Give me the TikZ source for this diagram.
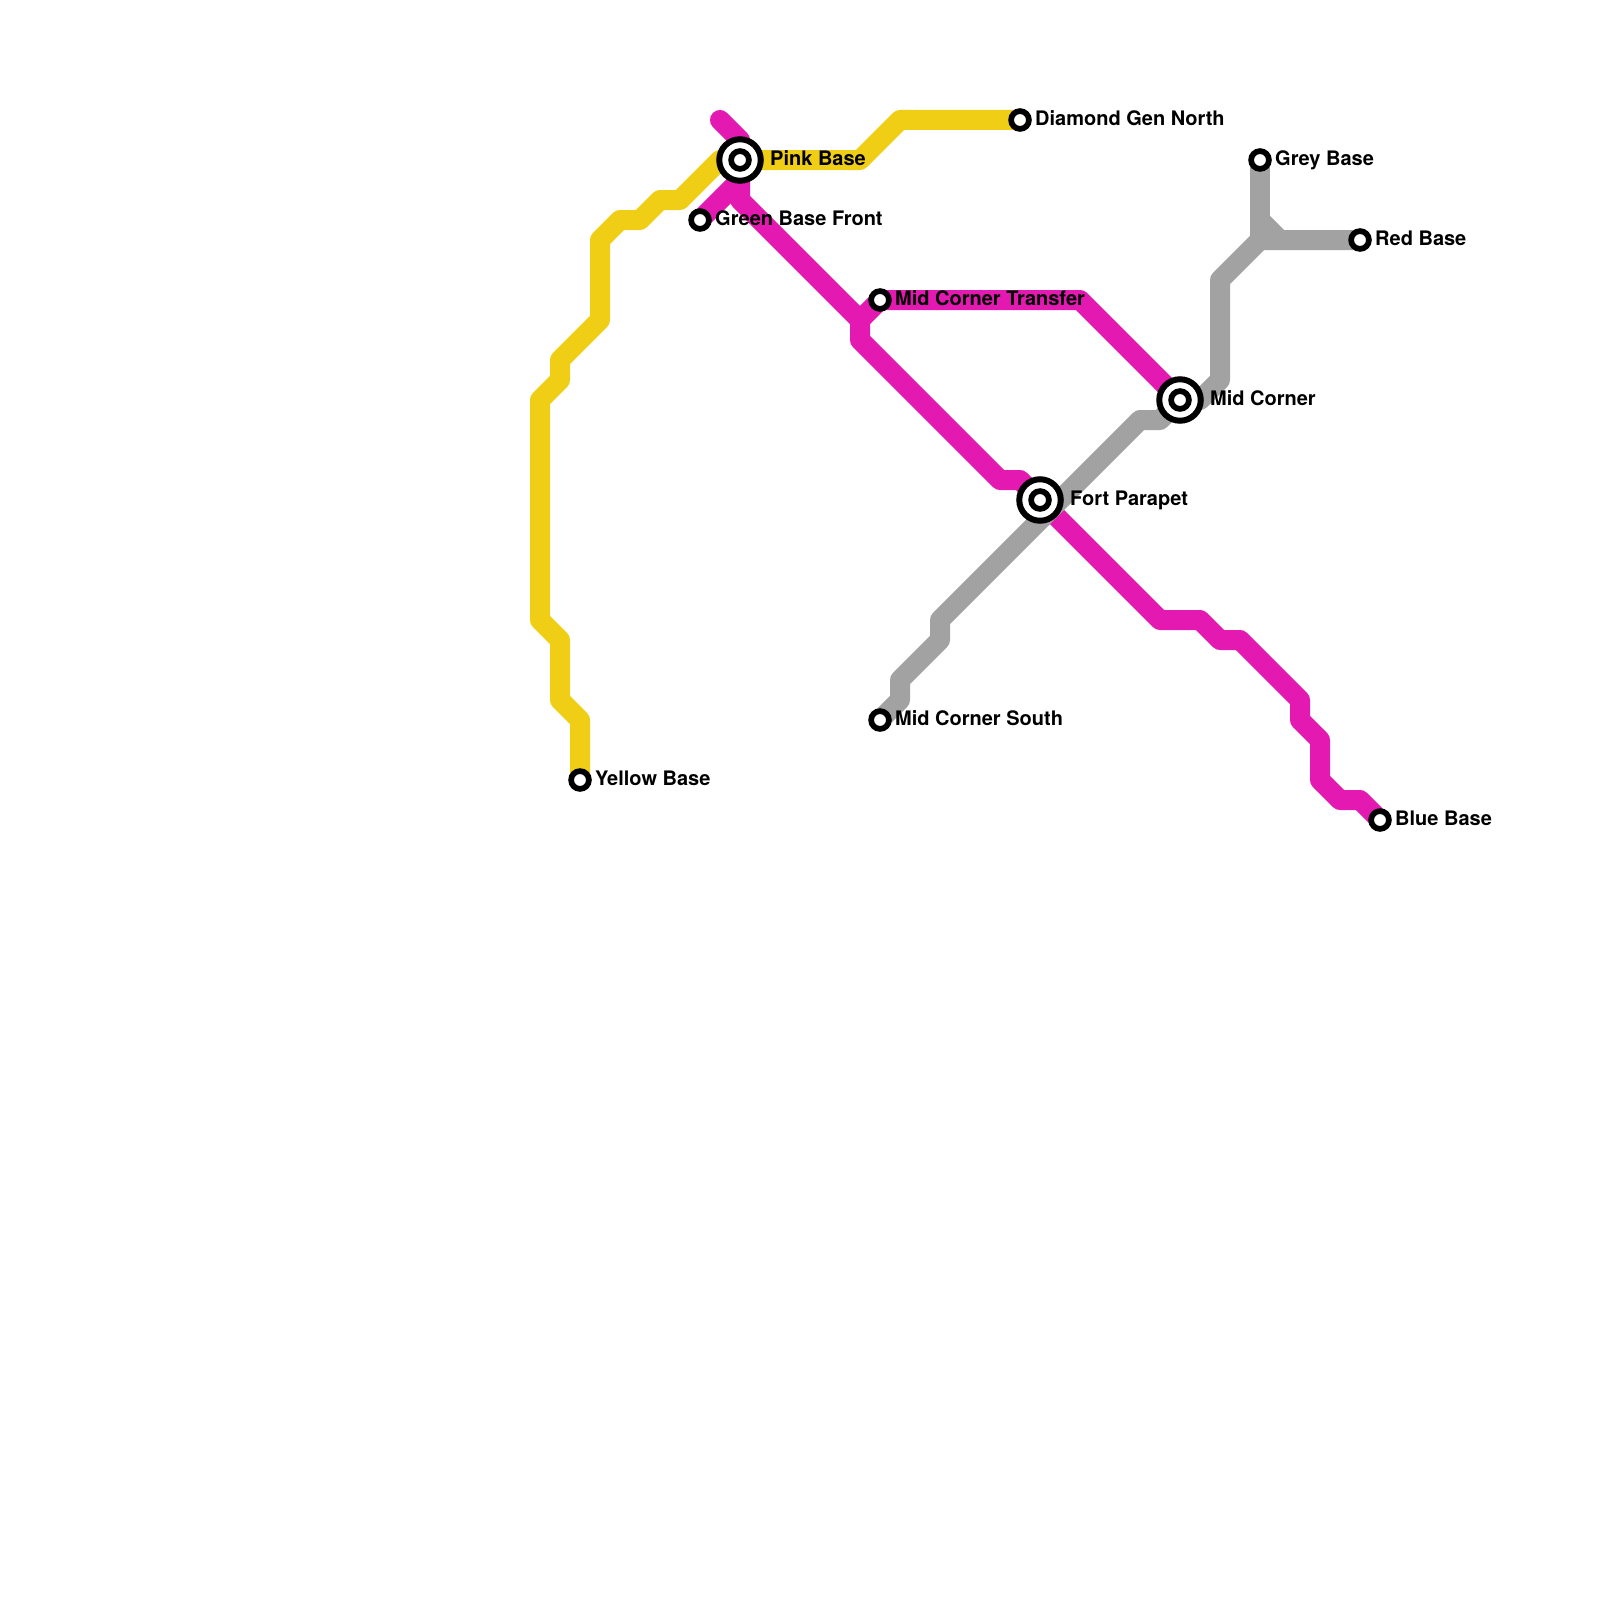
\documentclass[tikz,border=0pt]{standalone}
\usepackage{fontspec}
\setmainfont{TeX Gyre Heros}
\definecolor{lineyellow}{HTML}{F0CE15}
\definecolor{linepink}{HTML}{E319B2}
\definecolor{linegrey}{HTML}{A2A2A2}
\tikzset{
  route/.style={line width=20pt,line cap=round,line join=round},
  stop/.style={circle,draw=black,fill=white,line width=5.7pt,minimum size=17.8pt,inner sep=0pt},
  hubouter/.style={circle,draw=black,fill=white,line width=6pt,minimum size=41.5pt,inner sep=0pt},
  lab/.style={anchor=base west,inner sep=0pt,font=\fontsize{20}{24}\bfseries,text=black}
}
\begin{document}
\begin{tikzpicture}[x=1pt,y=-1pt]
\useasboundingbox (0,0) rectangle (1600,1600);
\fill[white] (0,0) rectangle (1600,1600);
\coordinate (pink) at (740,160);
\coordinate (green) at (700,220);
\coordinate (mct) at (880,300);
\coordinate (fort) at (1040,500);
\coordinate (midc) at (1180,400);
\coordinate (dia) at (1020,120);
\coordinate (gb) at (1260,160);
\coordinate (rb) at (1360,240);
\coordinate (bb) at (1380,820);
\coordinate (yb) at (580,780);
\coordinate (mcs) at (880,720);
\coordinate (pinkstart) at (720,120);
% lines
\draw[route,lineyellow] (yb) -- (580,720) -- (560,700) -- (560,640) -- (540,620) -- (540,400) -- (560,380) -- (560,360) -- (600,320) -- (600,240) -- (620,220) -- (640,220) -- (660,200) -- (680,200) -- (720,160) -- (pink) -- (860,160) -- (900,120) -- (dia);
\draw[route,linepink] (pinkstart) -- (740,140) -- (pink) -- (740,200) -- (860,320) -- (860,340) -- (1000,480) -- (1020,480) -- (fort) -- (1160,620) -- (1200,620) -- (1220,640) -- (1240,640) -- (1300,700) -- (1300,720) -- (1320,740) -- (1320,780) -- (1340,800) -- (1360,800) -- (bb);
\draw[route,linepink] (green) -- (740,180);
\draw[route,linepink] (860,320) -- (mct) -- (1080,300) -- (midc);
\draw[route,linegrey] (mcs) -- (900,700) -- (900,680) -- (940,640) -- (940,620) -- (1140,420) -- (1160,420) -- (midc) -- (1200,400) -- (1220,380) -- (1220,280) -- (1260,240) -- (rb);
\draw[route,linegrey] (gb) -- (1260,240);
\draw[route,linegrey] (1260,220) -- (1280,240);
% stations
\node[hubouter] (pinkO) at (pink) {};
\node[stop] (pinkI) at (pink) {};
\node[hubouter] (fortO) at (fort) {};
\node[stop] (fortI) at (fort) {};
\node[hubouter] (midO) at (midc) {};
\node[stop] (midI) at (midc) {};
\node[stop] (greenS) at (green) {};
\node[stop] (mctS) at (mct) {};
\node[stop] (diaS) at (dia) {};
\node[stop] (gbS) at (gb) {};
\node[stop] (rbS) at (rb) {};
\node[stop] (bbS) at (bb) {};
\node[stop] (ybS) at (yb) {};
\node[stop] (mcsS) at (mcs) {};
% labels
\node[lab] (l1) at (770,165) {Pink Base};
\node[lab] (l2) at (1070,505) {Fort Parapet};
\node[lab] (l3) at (1210,405) {Mid Corner};
\node[lab] (l4) at (715,225) {Green Base Front};
\node[lab] (l5) at (895,305) {Mid Corner Transfer};
\node[lab] (l6) at (1035,125) {Diamond Gen North};
\node[lab] (l7) at (1275,165) {Grey Base};
\node[lab] (l8) at (1375,245) {Red Base};
\node[lab] (l9) at (1395,825) {Blue Base};
\node[lab] (l10) at (595,785) {Yellow Base};
\node[lab] (l11) at (895,725) {Mid Corner South};
\end{tikzpicture}
\end{document}
